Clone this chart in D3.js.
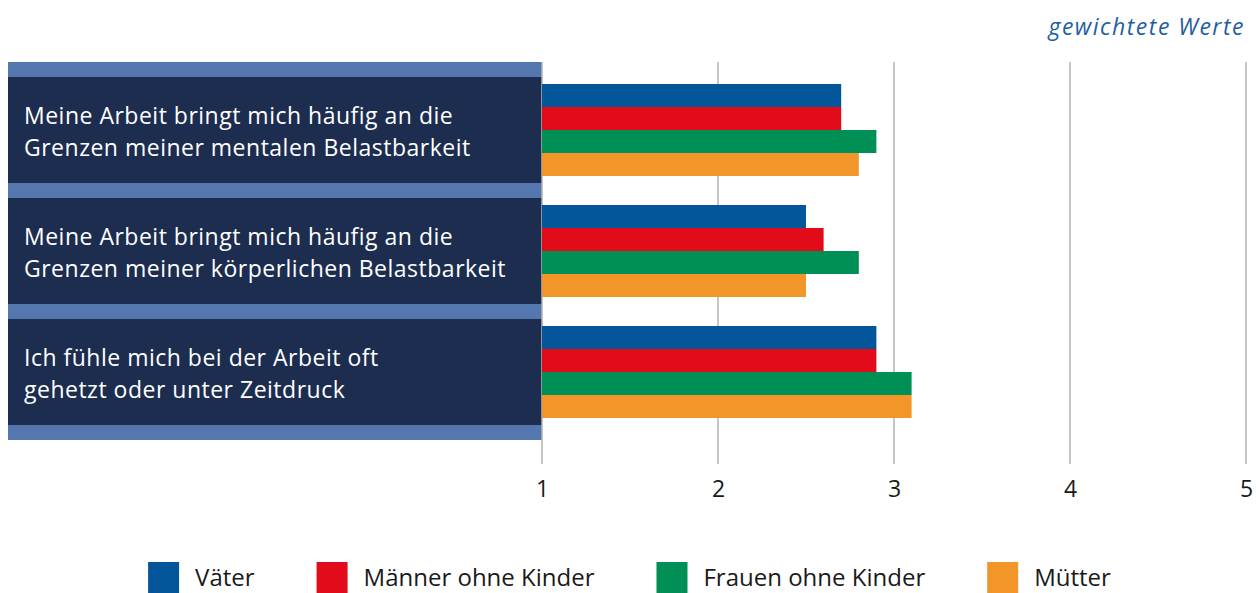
<!DOCTYPE html>
<html>
<head>
<meta charset="utf-8">
<script src="https://cdn.jsdelivr.net/npm/d3@7"></script>
<style>
  body { margin: 0; background: #fff; }
  text { font-family: "Open Sans", "Noto Sans", sans-serif; }
</style>
</head>
<body>
<script>
// data
const categories = [
  ['Meine Arbeit bringt mich häufig an die', 'Grenzen meiner mentalen Belastbarkeit'],
  ['Meine Arbeit bringt mich häufig an die', 'Grenzen meiner körperlichen Belastbarkeit'],
  ['Ich fühle mich bei der Arbeit oft', 'gehetzt oder unter Zeitdruck']
];
const seriesNames = ['Väter', 'Männer ohne Kinder', 'Frauen ohne Kinder', 'Mütter'];
const vaeter = [2.7, 2.5, 2.9];
const maennerOhneKinder = [2.7, 2.6, 2.9];
const frauenOhneKinder = [2.9, 2.8, 3.1];
const muetter = [2.8, 2.5, 3.1];
const tickValues = [1, 2, 3, 4, 5];
const seriesColors = ['#03569a', '#e20b19', '#008f55', '#f39629'];

const seriesValues = [vaeter, maennerOhneKinder, frauenOhneKinder, muetter];

let width = 1259;
let height = 593;

let svg = d3.select('body')
  .append('svg')
  .attr('width', width)
  .attr('height', height);

let x = d3.scaleLinear()
  .domain([1, 5])
  .range([542, 1246]);

let rowIds = categories.map((c, i) => i);

let y = d3.scaleBand()
  .domain(rowIds)
  .range([62, 440])
  .padding(15 / 121);

let yInner = d3.scaleBand()
  .domain(seriesNames)
  .range([7, y.bandwidth() - 7]);

// label panel background
svg.append('rect')
  .attr('x', 8)
  .attr('y', 62)
  .attr('width', x(1) - 8)
  .attr('height', 440 - 62)
  .attr('fill', '#5577b0');

svg.selectAll('.panel')
  .data(rowIds)
  .enter()
  .append('rect')
  .attr('class', 'panel')
  .attr('x', 8)
  .attr('y', (d) => y(d))
  .attr('width', x(1) - 8)
  .attr('height', y.bandwidth())
  .attr('fill', '#1c2d4f');

// gridlines
svg.selectAll('.grid')
  .data(tickValues)
  .enter()
  .append('line')
  .attr('class', 'grid')
  .attr('x1', (d) => x(d))
  .attr('x2', (d) => x(d))
  .attr('y1', 62)
  .attr('y2', 464)
  .attr('stroke', '#b3b3b3')
  .attr('stroke-width', 1.5);

// bars
let groups = svg.selectAll('.group')
  .data(rowIds)
  .enter()
  .append('g')
  .attr('transform', (d) => 'translate(0,' + y(d) + ')');

groups.selectAll('rect')
  .data((d) => seriesNames.map((s, j) => ({ s: s, v: seriesValues[j][d], c: seriesColors[j] })))
  .enter()
  .append('rect')
  .attr('x', x(1))
  .attr('y', (d) => yInner(d.s))
  .attr('width', (d) => x(d.v) - x(1))
  .attr('height', yInner.bandwidth())
  .attr('fill', (d) => d.c);

// category labels, one text per line
let lineGap = 31.5;
rowIds.forEach((r) => {
  let cy = y(r) + y.bandwidth() / 2 + 2;
  categories[r].forEach((line, i) => {
    svg.append('text')
      .attr('x', 24)
      .attr('y', cy + (i - 0.5) * lineGap)
      .attr('dy', '0.35em')
      .attr('fill', '#ffffff')
      .attr('font-size', 23)
      .attr('letter-spacing', 0.5)
      .text(line);
  });
});

// x axis labels
let axis = svg.append('g')
  .attr('transform', 'translate(0,481)')
  .call(d3.axisBottom(x).tickValues(tickValues).tickSize(0).tickPadding(0).tickFormat(d3.format('d')));
axis.select('.domain').remove();
axis.selectAll('text')
  .attr('font-family', '"Open Sans", sans-serif')
  .attr('font-size', 23)
  .attr('fill', '#1a1a1a');

// note
svg.append('text')
  .attr('x', 1245)
  .attr('y', 35)
  .attr('text-anchor', 'end')
  .attr('font-size', 23)
  .attr('letter-spacing', 1.5)
  .attr('font-style', 'italic')
  .attr('fill', '#1f5fa0')
  .text('gewichtete Werte');

// legend
let legend = svg.append('g');
let lx = 0;
seriesNames.forEach((s, j) => {
  let g = legend.append('g').attr('transform', 'translate(' + lx + ',0)');
  g.append('rect')
    .attr('x', 0)
    .attr('y', 562)
    .attr('width', 31)
    .attr('height', 31)
    .attr('fill', seriesColors[j]);
  let t = g.append('text')
    .attr('x', 47)
    .attr('y', 578)
    .attr('dy', '0.35em')
    .attr('font-size', 24)
    .attr('fill', '#1a1a1a')
    .text(s);
  lx += 47 + t.node().getComputedTextLength() + 62;
});
let legendWidth = lx - 62;
legend.attr('transform', 'translate(' + ((width - legendWidth) / 2) + ',0)');
</script>
</body>
</html>
